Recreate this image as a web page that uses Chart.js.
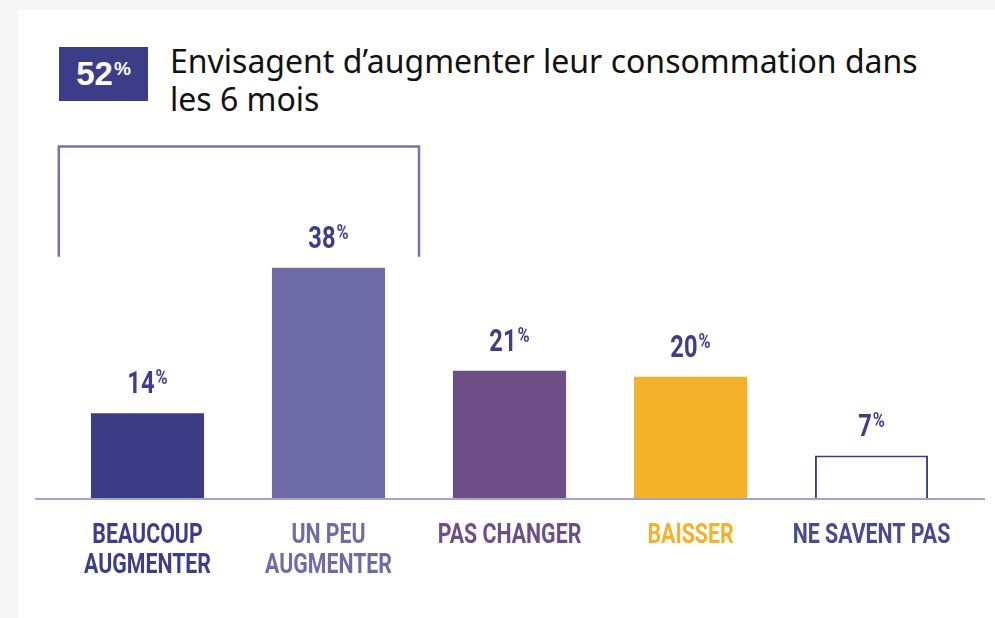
<!DOCTYPE html>
<html>
<head>
<meta charset="utf-8">
<script src="https://cdn.jsdelivr.net/npm/chart.js@4/dist/chart.umd.min.js"></script>
<style>
  html, body { margin: 0; padding: 0; }
  body { width: 995px; height: 618px; background: #f6f6f6; position: relative; overflow: hidden; }
  #card { position: absolute; left: 18px; top: 10px; right: 0; bottom: 0; background: #ffffff; }
  #badge { position: absolute; left: 59px; top: 47px; width: 89px; height: 54px; background: #3d3c89;
           color: #fff; font-family: 'Liberation Sans', Arial, sans-serif; font-weight: bold; font-size: 33px;
           display: flex; align-items: center; justify-content: center; }
  #badge sup { font-size: 19px; vertical-align: top; position: relative; top: -5px; margin-left: 1px; }
  #title { position: absolute; left: 170px; top: 42px; font-family: 'Noto Sans', sans-serif; font-size: 32px;
           line-height: 38px; color: #111; white-space: nowrap; }
  canvas { position: absolute; left: 0; top: 0; }
</style>
</head>
<body>
<div id="card"></div>
<div id="badge"><span>52</span><sup>%</sup></div>
<div id="title">Envisagent d’augmenter leur consommation dans<br>les 6 mois</div>
<canvas id="c" width="995" height="618"></canvas>
<script>
const categories = [["BEAUCOUP", "AUGMENTER"], ["UN PEU", "AUGMENTER"], ["PAS CHANGER"], ["BAISSER"], ["NE SAVENT PAS"]];
const values = [14, 38, 21, 20, 7];
const valueLabels = ["14", "38", "21", "20", "7"];
const barColors = ["#3c3b85", "#6d6ca6", "#6e4e86", "#f3b22a", "#ffffff"];
const labelColors = ["#3d3d8a", "#6d6ca6", "#6e4e86", "#f3b22a", "#4a4a8e"];
const bracketRange = [0, 1];      // categories covered by the 52% bracket
const bracketValues = [39.8, 58]; // bottom and top of the bracket, in axis units

const fam = "Roboto, 'Noto Sans', sans-serif";

function condensedText(ctx, text, cx, baseY, font, sx, align) {
  ctx.save();
  ctx.font = font;
  ctx.textAlign = align || 'center';
  ctx.textBaseline = 'alphabetic';
  ctx.translate(cx, baseY);
  ctx.scale(sx, 1);
  ctx.fillText(text, 0, 0);
  ctx.restore();
}

const decorations = {
  id: 'decorations',
  afterDatasetsDraw(chart) {
    const ctx = chart.ctx;
    const x = chart.scales.x, y = chart.scales.y;
    const area = chart.chartArea;
    const y0 = y.getPixelForValue(0);
    ctx.save();
    // baseline
    ctx.strokeStyle = '#a3a3cf';
    ctx.lineWidth = 2;
    ctx.beginPath();
    ctx.moveTo(area.left - 22, y0 + 1);
    ctx.lineTo(area.right + 23, y0 + 1);
    ctx.stroke();
    // bracket
    const step = x.getPixelForValue(1) - x.getPixelForValue(0);
    const bl = x.getPixelForValue(bracketRange[0]) - step * 0.49;
    const br = (x.getPixelForValue(bracketRange[1]) + x.getPixelForValue(bracketRange[1] + 1)) / 2;
    const bb = y.getPixelForValue(bracketValues[0]);
    const bt = y.getPixelForValue(bracketValues[1]);
    ctx.strokeStyle = '#7373ae';
    ctx.lineWidth = 2.5;
    ctx.beginPath();
    ctx.moveTo(bl, bb); ctx.lineTo(bl, bt); ctx.lineTo(br, bt); ctx.lineTo(br, bb);
    ctx.stroke();
    // value labels
    const meta = chart.getDatasetMeta(0);
    const numFont = 'bold 32px ' + fam, pctFont = 'bold 20px ' + fam;
    const sN = 0.74, sP = 0.82;
    meta.data.forEach((bar, i) => {
      const num = valueLabels[i];
      ctx.font = numFont;
      const wn = ctx.measureText(num).width * sN;
      ctx.font = pctFont;
      const wp = ctx.measureText('%').width * sP;
      const total = wn + wp + 1;
      const left = bar.x - total / 2;
      const base = bar.y - 20;
      ctx.fillStyle = '#3d3d8a';
      condensedText(ctx, num, left, base, numFont, sN, 'left');
      condensedText(ctx, '%', left + wn + 1, base - 9, pctFont, sP, 'left');
    });
    // category labels
    categories.forEach((lines, i) => {
      const cx = x.getPixelForValue(i);
      ctx.fillStyle = labelColors[i];
      lines.forEach((t, j) => {
        condensedText(ctx, t, cx, y0 + 45 + j * 30, 'bold 27px ' + fam, 0.79, 'center');
      });
    });
    ctx.restore();
  }
};

new Chart(document.getElementById('c'), {
  type: 'bar',
  data: {
    labels: categories,
    datasets: [{
      data: values,
      backgroundColor: barColors,
      borderColor: ['#3c3b85', '#6d6ca6', '#6e4e86', '#f3b22a', '#3d3d8a'],
      borderWidth: [0, 0, 0, 0, 2],
      borderSkipped: 'bottom',
      categoryPercentage: 1,
      barPercentage: 0.625
    }]
  },
  options: {
    responsive: false,
    animation: false,
    devicePixelRatio: 1,
    layout: { padding: { left: 57, right: 33, top: 195, bottom: 120 } },
    plugins: { legend: { display: false }, tooltip: { enabled: false } },
    scales: {
      x: { display: false },
      y: { display: false, min: 0, max: 50 }
    }
  },
  plugins: [decorations]
});
</script>
</body>
</html>
